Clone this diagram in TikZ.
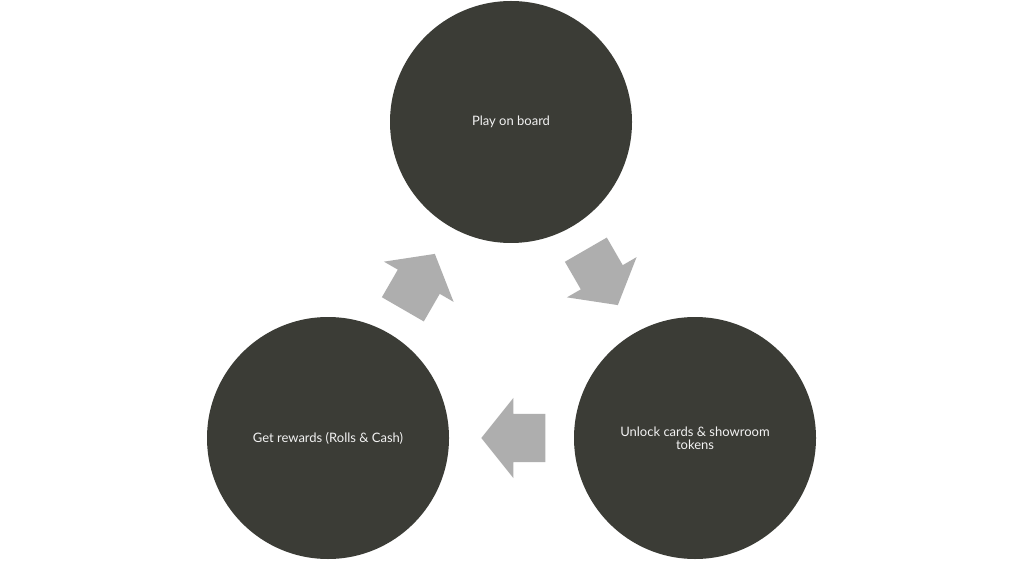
\documentclass[tikz,border=0pt]{standalone}
\usepackage{fontspec}
\setmainfont{Lato}
\usetikzlibrary{shapes.arrows}
\definecolor{stagefill}{HTML}{3B3C36}
\definecolor{flowfill}{HTML}{AEAEAE}
\tikzset{
  stage/.style={circle, fill=stagefill, minimum size=242pt, inner sep=0pt,
    text=white!95!black, font=\fontsize{13}{13}\selectfont, align=center},
  flow/.style={single arrow, fill=flowfill, minimum height=64pt, minimum width=80pt,
    single arrow head extend=16pt, single arrow tip angle=102.7,
    inner xsep=0pt, inner ysep=24pt}
}
\begin{document}
\begin{tikzpicture}[x=1pt,y=-1pt]
      \fill[white] (0,0) rectangle (1022,561);
      \useasboundingbox (0,0) rectangle (1022,561);
      \draw
        (511,122) node[stage] (play){Play on board}
        (695,438) node[stage] (unlock){Unlock cards \& showroom\\tokens}
        (328,438) node[stage] (rewards){Get rewards (Rolls \& Cash)};
      \path
        (597,269) node[flow, rotate=-60] (toUnlock){}
        (523,438) node[flow, rotate=180] (toRewards){}
        (414,290) node[flow, rotate=60] (toPlay){};
    \end{tikzpicture}
\end{document}
